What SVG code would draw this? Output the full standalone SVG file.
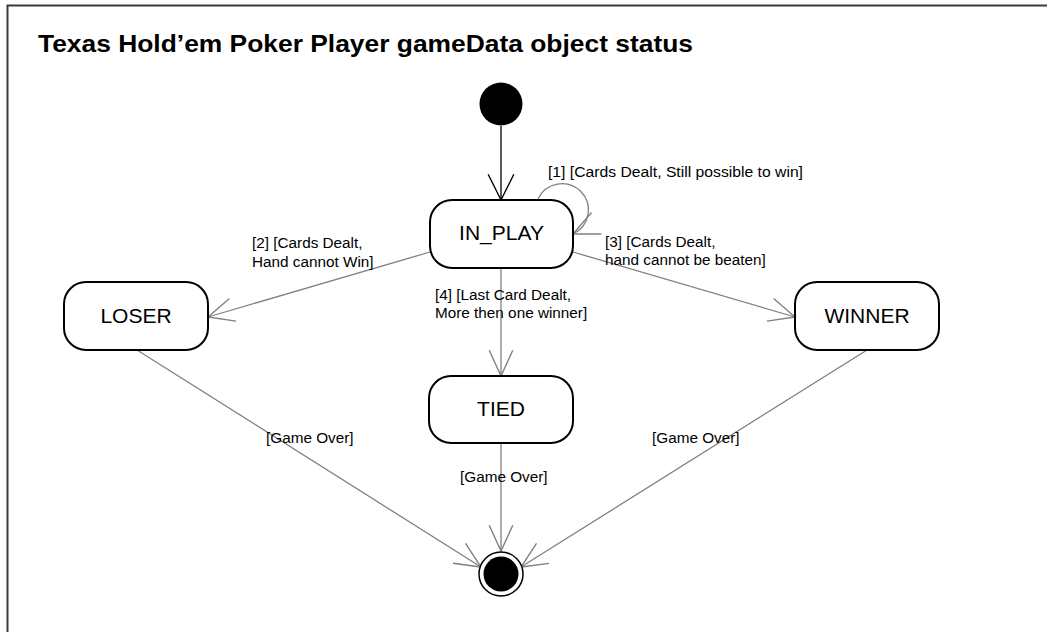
<svg xmlns="http://www.w3.org/2000/svg" width="1047" height="632" viewBox="0 0 1047 632">
<style>
.frame{fill:none;stroke:#3a3a3a;stroke-width:2}
.title{font-family:"Liberation Sans",Arial,sans-serif;font-weight:bold;font-size:24px;fill:#000}
.state{fill:#fff;stroke:#000;stroke-width:2}
.sname{font-family:"Liberation Sans",Arial,sans-serif;font-size:21px;fill:#000;text-anchor:middle}
.lbl{font-family:"Liberation Sans",Arial,sans-serif;font-size:15.3px;fill:#000}
.edge{fill:none;stroke:#808080;stroke-width:1.3}
.edge0{fill:none;stroke:#000;stroke-width:1.3}
</style>
<defs>
<marker id="ag" markerUnits="userSpaceOnUse" orient="auto" markerWidth="30" markerHeight="30" viewBox="-26 -13 28 26" refX="0" refY="0">
<path d="M-24,-11 L0,0 L-24,11" fill="none" stroke="#808080" stroke-width="1.3"/>
</marker>
<marker id="ab" markerUnits="userSpaceOnUse" orient="auto" markerWidth="30" markerHeight="30" viewBox="-26 -13 28 26" refX="0" refY="0">
<path d="M-24,-12 L0,0 L-24,12" fill="none" stroke="#000" stroke-width="1.3"/>
</marker>
</defs>
<path class="frame" d="M7.5,632 V5.5 H1047"/>
<text class="title" x="38" y="52" textLength="655" lengthAdjust="spacingAndGlyphs">Texas Hold’em Poker Player gameData object status</text>
<g id="connectors">
<line class="edge0" x1="501" y1="126" x2="501" y2="200" marker-end="url(#ab)"/>
<path class="edge" d="M538,199 A26.4,26.4 0 1 1 573,234" marker-end="url(#ag)"/>
<line class="edge" x1="430" y1="252" x2="208" y2="317" marker-end="url(#ag)"/>
<line class="edge" x1="573" y1="252" x2="795" y2="317" marker-end="url(#ag)"/>
<line class="edge" x1="501" y1="268" x2="501" y2="376" marker-end="url(#ag)"/>
<line class="edge" x1="137" y1="350" x2="481" y2="567" marker-end="url(#ag)"/>
<line class="edge" x1="867" y1="350" x2="521" y2="567" marker-end="url(#ag)"/>
<line class="edge" x1="501" y1="443" x2="501" y2="551" marker-end="url(#ag)"/>
<text class="lbl" x="548" y="177" textLength="255" lengthAdjust="spacingAndGlyphs">[1] [Cards Dealt, Still possible to win]</text>
<text class="lbl" x="252" y="248">[2] [Cards Dealt,</text>
<text class="lbl" x="252" y="267">Hand cannot Win]</text>
<text class="lbl" x="605" y="247">[3] [Cards Dealt,</text>
<text class="lbl" x="605" y="265">hand cannot be beaten]</text>
<text class="lbl" x="435" y="300">[4] [Last Card Dealt,</text>
<text class="lbl" x="435" y="318">More then one winner]</text>
<text class="lbl" x="266" y="443">[Game Over]</text>
<text class="lbl" x="460" y="482">[Game Over]</text>
<text class="lbl" x="652" y="443">[Game Over]</text>
</g>
<g id="initial"><circle cx="501" cy="104" r="21.5" fill="#000"/></g>
<g id="in_play"><rect class="state" x="430" y="200" width="143" height="68" rx="22"/><text class="sname" x="501.5" y="240">IN_PLAY</text></g>
<g id="loser"><rect class="state" x="64" y="282" width="144" height="68" rx="22"/><text class="sname" x="136" y="323">LOSER</text></g>
<g id="winner"><rect class="state" x="795" y="282" width="144" height="68" rx="22"/><text class="sname" x="867" y="323">WINNER</text></g>
<g id="tied"><rect class="state" x="429" y="376" width="144" height="67" rx="22"/><text class="sname" x="501" y="416">TIED</text></g>
<g id="final"><circle cx="501" cy="574" r="22" fill="#fff" stroke="#000" stroke-width="1.5"/><circle cx="501" cy="574" r="17.5" fill="#000"/></g>
</svg>
